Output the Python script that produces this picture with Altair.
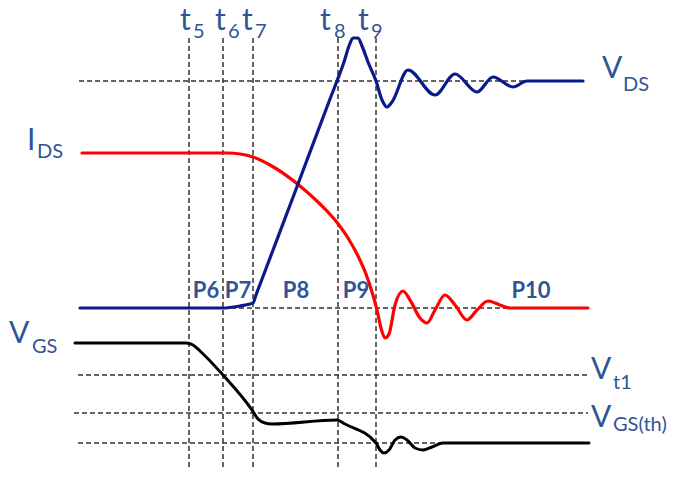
import altair as alt
import pandas as pd

# ---- curves (x, y in picture units: x to the right, y downward) ----
vds_x = [80, 223, 240, 250, 253, 256, 295, 330, 337, 344, 349, 353, 358, 362, 368, 376, 382, 387, 392, 408, 435, 455, 477, 493, 513, 527, 583]
vds_y = [308, 308, 306, 304, 303, 295, 192, 99, 81, 62, 46, 38, 38, 46, 62, 81, 100, 107, 102, 70, 95, 74, 92, 77, 87, 81, 81]

ids_x = [82, 228, 240, 253, 270, 300, 320, 335, 348, 358, 366, 372, 377, 381, 385, 389, 395, 403, 410, 420, 427, 435, 445, 455, 467, 477, 488, 500, 510, 588]
ids_y = [153, 153, 154, 157, 165, 186, 204, 220, 238, 256, 274, 292, 310, 328, 338, 334, 305, 291, 300, 318, 323, 310, 295, 305, 320, 310, 301, 305, 308, 308]

vgs_x = [75, 186, 193, 200, 223, 252, 258, 265, 272, 337, 345, 376, 380, 384, 389, 395, 401, 407, 415, 423, 432, 443, 589]
vgs_y = [343, 343, 345, 351, 375, 410, 419, 423, 424, 420, 424, 443, 450, 453, 450, 440, 437, 440, 448, 450, 447, 443, 443]

# ---- dashed reference lines ----
h_y = [81, 308, 375, 413, 443]
h_x1 = [79, 223, 78, 74, 78]
h_x2 = [583, 510, 590, 588, 440]

v_x = [189, 223, 253, 338, 376]
v_y1 = [38, 38, 38, 38, 38]
v_y2 = [469, 469, 469, 469, 469]

# ---- labels ----
main_text = ["V", "I", "V", "V", "V", "t", "t", "t", "t", "t"]
main_x = [602, 27, 9, 591, 591, 180, 215, 242, 320, 358]
main_y = [78, 150, 343, 379, 427, 30, 30, 30, 30, 30]

sub_text = ["DS", "DS", "GS", "t1", "GS(th)", "5", "6", "7", "8", "9"]
sub_x = [623, 37, 32, 613, 613, 193, 228, 255, 334, 371]
sub_y = [91, 158, 353, 389, 431, 38, 38, 38, 38, 38]

p_text = ["P6", "P7", "P8", "P9", "P10"]
p_x = [206, 238, 296, 356, 531]
p_y = [298, 298, 298, 298, 298]

LABEL = "#2F5597"
FONT = "Lato"

xs = alt.Scale(domain=[8, 675], nice=False, zero=False)
ys = alt.Scale(domain=[469, 8], nice=False, zero=False)

def curve(xv, yv, color, width):
    df = pd.DataFrame({"x": xv, "y": yv, "o": list(range(len(xv)))})
    return alt.Chart(df).mark_line(color=color, strokeWidth=width, interpolate="monotone",
                                   strokeCap="round", strokeJoin="round").encode(
        x=alt.X("x:Q", scale=xs, axis=None),
        y=alt.Y("y:Q", scale=ys, axis=None),
        order="o:Q",
    )

hdf = pd.DataFrame({"y": h_y, "x1": h_x1, "x2": h_x2})
hrules = alt.Chart(hdf).mark_rule(color="#333333", strokeWidth=1.5, strokeDash=[5, 3]).encode(
    x=alt.X("x1:Q", scale=xs, axis=None), x2="x2:Q", y=alt.Y("y:Q", scale=ys, axis=None))

vdf = pd.DataFrame({"x": v_x, "y1": v_y1, "y2": v_y2})
vrules = alt.Chart(vdf).mark_rule(color="#333333", strokeWidth=1.5, strokeDash=[5, 3]).encode(
    x=alt.X("x:Q", scale=xs, axis=None), y=alt.Y("y1:Q", scale=ys, axis=None), y2="y2:Q")

def texts(tx, xv, yv, size, weight="normal", align="left"):
    df = pd.DataFrame({"t": tx, "x": xv, "y": yv})
    return alt.Chart(df).mark_text(font=FONT, fontSize=size, fontWeight=weight, color=LABEL,
                                   align=align, baseline="alphabetic").encode(
        x=alt.X("x:Q", scale=xs, axis=None), y=alt.Y("y:Q", scale=ys, axis=None), text="t:N")

chart = alt.layer(
    hrules, vrules,
    curve(vgs_x, vgs_y, "#000000", 3),
    curve(ids_x, ids_y, "#FF0000", 3.2),
    curve(vds_x, vds_y, "#0B1A8A", 3.2),
    texts(main_text, main_x, main_y, 30),
    texts(sub_text, sub_x, sub_y, 20),
    texts(p_text, p_x, p_y, 22, "bold", "center"),
).properties(
    width=667, height=461, padding=0,
    autosize=alt.AutoSizeParams(type="none"),
    background="white",
).configure_view(stroke=None)

chart.save("out.html", embed_options={"renderer": "svg", "actions": False})
